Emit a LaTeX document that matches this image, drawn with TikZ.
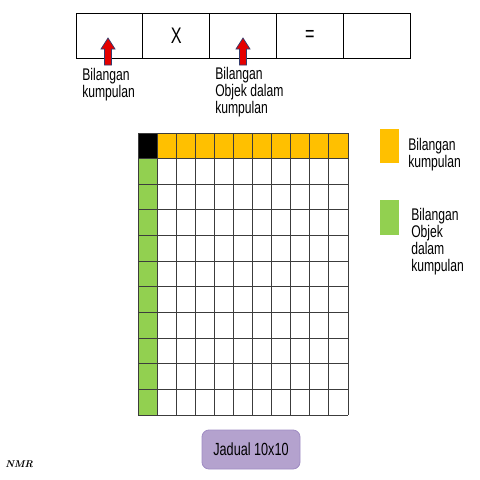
\documentclass[tikz,border=0pt]{standalone}
\usepackage{fontspec}
\setmainfont{Liberation Sans}[FakeStretch=0.72]
\definecolor{orng}{RGB}{255,192,0}
\definecolor{grn}{RGB}{146,208,80}
\definecolor{purp}{RGB}{180,162,206}
\definecolor{purpb}{RGB}{160,140,195}
\definecolor{navy}{RGB}{50,60,110}
\definecolor{gridc}{RGB}{60,60,60}
\tikzset{
  txt/.style={font=\fontsize{12}{12.1}\selectfont, inner sep=0pt, anchor=north west, align=left},
  topbox/.style={draw=black, line width=0.7pt, minimum width=66.8*0.025cm, minimum height=45*0.025cm, inner sep=0pt, font=\fontsize{16}{16}\selectfont},
  blockarrow/.style={fill=red!90!black, draw=navy, line width=0.5pt},
  cellline/.style={draw=gridc, line width=0.65pt},
}
\begin{document}
\begin{tikzpicture}[x=0.025cm,y=-0.025cm]
\useasboundingbox (0,0) rectangle (480,480);
% top boxes
\foreach \i/\t in {1/{},2/X,3/{},4/=,5/{}}{
  \node[topbox] (box\i) at ({76+66.8*(\i-0.5)},35.5) {\t};
}
% arrows
\foreach \cx/\n in {108/a1,243/a2}{
  \draw[blockarrow] (\cx,38) -- (\cx+7,49) -- (\cx+3.5,49) -- (\cx+3.5,65) -- (\cx-3.5,65) -- (\cx-3.5,49) -- (\cx-7,49) -- cycle;
}
\node[txt] (lab1) at (82,68) {Bilangan\\kumpulan};
\node[txt] (lab2) at (215,67) {Bilangan\\Objek dalam\\kumpulan};
% grid
\def\cw{19.09}
\def\ch{25.64}
\fill[black] (138,133) rectangle ++(\cw,\ch);
\fill[orng] (138+\cw,133) rectangle (348,133+\ch);
\fill[grn] (138,133+\ch) rectangle (138+\cw,415);
\foreach \k in {0,...,11}{
  \draw[cellline] ({138+\cw*\k},133) -- ({138+\cw*\k},415);
  \draw[cellline] (138,{133+\ch*\k}) -- (348,{133+\ch*\k});
}
% legend
\fill[orng] (380,129) rectangle (399,163);
\node[txt] (leg1) at (408,138) {Bilangan\\kumpulan};
\fill[grn] (380,200) rectangle (399,235);
\node[txt] (leg2) at (411,208) {Bilangan\\Objek\\dalam\\kumpulan};
% Jadual box
\node[draw=purpb, fill=purp, rounded corners=5pt, line width=0.6pt, minimum width=98*0.025cm, minimum height=39*0.025cm, font=\fontsize{12.5}{12.5}\selectfont] (jadual) at (251,449.5) {Jadual 10x10};
% NMR
\node[inner sep=0pt, anchor=west, font=\fontsize{7}{7}\selectfont\fontspec{Latin Modern Roman}\bfseries\itshape] (nmr) at (5,464) {NMR};
\end{tikzpicture}
\end{document}
